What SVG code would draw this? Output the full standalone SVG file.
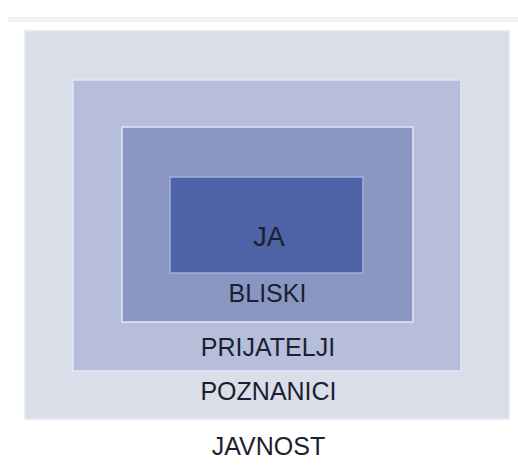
<svg xmlns="http://www.w3.org/2000/svg" width="518" height="472" viewBox="0 0 518 472">
  <style>
    .lbl { font-family: "Liberation Sans", Arial, sans-serif; font-size: 25px; fill: #1b1f30; text-anchor: middle; }
    .ring { stroke: #e4e8f3; stroke-width: 1.5; }
  </style>
  <rect x="0" y="0" width="518" height="472" fill="#ffffff"/>
  <!-- faint rule along the top -->
  <rect x="8" y="17" width="510" height="5" fill="#f3f3f3"/>

  <g id="javnost">
    <rect class="ring" x="25" y="31" width="484" height="388" fill="#d9dee9"/>
    <text class="lbl" x="268.5" y="455">JAVNOST</text>
  </g>
  <g id="poznanici">
    <rect class="ring" x="73" y="80" width="388" height="291" fill="#b6bedb"/>
    <text class="lbl" x="268.5" y="400">POZNANICI</text>
  </g>
  <g id="prijatelji">
    <rect class="ring" x="122" y="127" width="291" height="195" fill="#8996c2"/>
    <text class="lbl" x="268" y="356">PRIJATELJI</text>
  </g>
  <g id="bliski">
    <text class="lbl" x="267.5" y="302">BLISKI</text>
  </g>
  <g id="ja">
    <rect x="170" y="177" width="193" height="96" fill="#4d63a5" stroke="#a3b1db" stroke-width="1.5"/>
    <text class="lbl" x="269" y="246" style="font-size:27px">JA</text>
  </g>
  <g id="connectors"/>
</svg>
